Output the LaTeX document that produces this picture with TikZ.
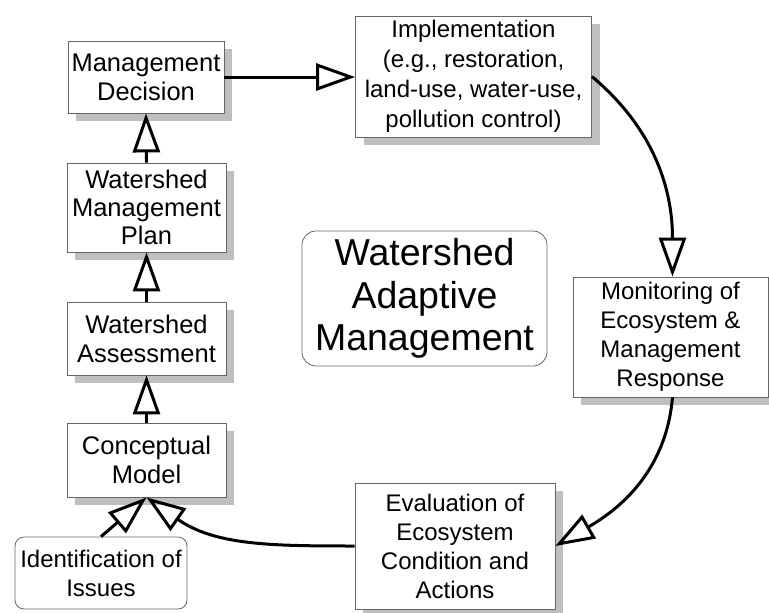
\documentclass[tikz,border=0pt]{standalone}
\usepackage{fontspec}
\setmainfont{Liberation Sans}
\usetikzlibrary{arrows.meta,shadows}
\begin{document}
\begin{tikzpicture}[x=1pt,y=1pt,
 box/.style={draw=black!60, line width=0.8pt, fill=white, inner sep=0pt, align=center,
   font=\fontsize{24}{29}\selectfont,
   drop shadow={shadow xshift=8pt, shadow yshift=-8pt, fill=black!25, opacity=1}},
 lbox/.style={box, font=\fontsize{25.5}{29}\selectfont},
 rbox/.style={draw=black!60, line width=0.8pt, fill=white, rounded corners=9pt, inner sep=0pt,
   align=center, font=\fontsize{24}{29}\selectfont},
 conn/.style={line width=3pt, -{Triangle[open, length=39pt, width=27pt]}},
]
\useasboundingbox[fill=white] (0,0) rectangle (769,-613);

\node[lbox, minimum width=156pt, minimum height=72pt] (MD) at (146,-77) {Management\\Decision};
\node[lbox, minimum width=159pt, minimum height=89pt, font=\fontsize{25.5}{28}\selectfont] (WMP) at (146.5,-207.5) {Watershed\\Management\\Plan};
\node[lbox, minimum width=159pt, minimum height=73pt] (WA) at (146.5,-338.5) {Watershed\\Assessment};
\node[lbox, minimum width=159pt, minimum height=74pt] (CM) at (146.5,-460) {Conceptual\\Model};
\node[rbox, minimum width=172pt, minimum height=72pt] (IoI) at (101,-573) {Identification of\\Issues};
\node[box, minimum width=236pt, minimum height=121pt, font=\fontsize{24}{30}\selectfont] (Impl) at (473.5,-76.5) {Implementation\\(e.g., restoration,\\land-use, water-use,\\pollution control)};
\node[rbox, rounded corners=14pt, minimum width=245pt, minimum height=135pt, font=\fontsize{37.5}{42.5}\selectfont] (WAM) at (424.5,-298.5) {Watershed\\Adaptive\\Management};
\node[box, minimum width=195pt, minimum height=120pt] (Mon) at (670.5,-337) {Monitoring of\\Ecosystem \&\\Management\\Response};
\node[box, minimum width=200pt, minimum height=126pt] (Eval) at (455,-546) {Evaluation of\\Ecosystem\\Condition and\\Actions};

\draw[conn] (WMP.north) -- (MD.south);
\draw[conn] (WA.north) -- (WMP.south);
\draw[conn] (CM.north) -- (WA.south);
\draw[conn] (IoI.north) -- (CM.south);
\draw[conn] (Eval.west) to[out=180,in=-35] (CM.south);
\draw[conn] (MD.east) -- (MD.east -| Impl.west);
\draw[conn] (Impl.east) to[out=-40,in=90] ([xshift=2pt]Mon.north);
\draw[conn] ([xshift=2pt]Mon.south) to[out=-95,in=30] (Eval.east);
\end{tikzpicture}
\end{document}
